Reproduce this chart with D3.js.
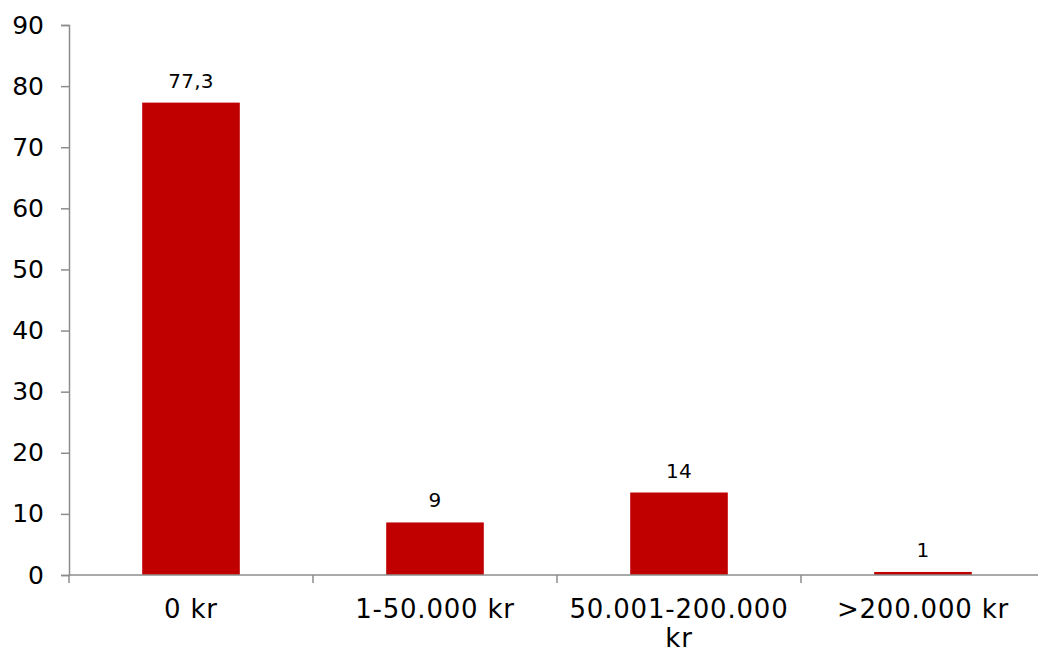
<!DOCTYPE html>
<html>
<head>
<meta charset="utf-8">
<script src="https://cdn.jsdelivr.net/npm/d3@7"></script>
<style>
  html, body { margin: 0; padding: 0; background: #fff; }
  svg { display: block; font-family: "DejaVu Sans", Verdana, sans-serif; }
</style>
</head>
<body>
<svg id="chart" width="1038" height="654"></svg>
<script>
const categories = ["0 kr", "1-50.000 kr", "50.001-200.000 kr", ">200.000 kr"];
const values = [77.3, 8.6, 13.5, 0.5];
const valueLabels = ["77,3", "9", "14", "1"];
const yTicks = [0, 10, 20, 30, 40, 50, 60, 70, 80, 90];

(function () {
const svg = d3.select("#chart");
const mLeft = 69, mRight = 1045, mTop = 25, mBottom = 575;
const axisColor = "#8c8c8c";

const x = d3.scaleBand().domain(categories).range([mLeft, mRight]).paddingInner(0.6).paddingOuter(0.3);
const y = d3.scaleLinear().domain([0, 90]).range([mBottom, mTop]);

// bars
svg.selectAll("rect.bar").data(values).join("rect")
  .attr("class", "bar")
  .attr("x", (d, i) => x(categories[i]))
  .attr("width", x.bandwidth())
  .attr("y", d => y(d))
  .attr("height", d => y(0) - y(d))
  .attr("fill", "#c00000");

// data labels
svg.selectAll("text.val").data(values).join("text")
  .attr("class", "val")
  .attr("x", (d, i) => x(categories[i]) + x.bandwidth() / 2)
  .attr("y", d => y(d) - 15)
  .attr("text-anchor", "middle")
  .attr("font-size", 20)
  .attr("letter-spacing", 0.3)
  .attr("fill", "#000")
  .text((d, i) => valueLabels[i]);

// y axis
const yAxis = d3.axisLeft(y).tickValues(yTicks).tickSize(8).tickPadding(17).tickFormat(d3.format("d"));
const gy = svg.append("g").attr("transform", `translate(${mLeft},0)`).call(yAxis);
gy.select(".domain").attr("stroke", axisColor).attr("stroke-width", 1.5);
gy.selectAll(".tick line").attr("stroke", axisColor).attr("stroke-width", 1.5);
gy.selectAll(".tick text").attr("font-size", 25).attr("fill", "#000").attr("font-family", "DejaVu Sans, Verdana, sans-serif");

// x axis line
svg.append("line")
  .attr("x1", mLeft).attr("x2", mRight)
  .attr("y1", y(0)).attr("y2", y(0))
  .attr("stroke", axisColor).attr("stroke-width", 1.5);

// category boundary ticks
const boundaries = d3.range(categories.length + 1).map(i => mLeft + i * (mRight - mLeft) / categories.length);
svg.selectAll("line.xtick").data(boundaries).join("line")
  .attr("class", "xtick")
  .attr("x1", d => d).attr("x2", d => d)
  .attr("y1", y(0)).attr("y2", y(0) + 8)
  .attr("stroke", axisColor).attr("stroke-width", 1.5);

// category labels with wrapping
const maxW = 236;
categories.forEach((c, i) => {
  const cx = x(c) + x.bandwidth() / 2;
  const t = svg.append("text")
    .attr("x", cx).attr("y", 618)
    .attr("text-anchor", "middle")
    .attr("font-size", 26)
    .attr("letter-spacing", 0.8)
    .attr("fill", "#000");
  const words = c.split(" ");
  let line = [];
  let tspan = t.append("tspan").attr("x", cx).attr("dy", 0);
  words.forEach(w => {
    line.push(w);
    tspan.text(line.join(" "));
    if (tspan.node().getComputedTextLength() > maxW && line.length > 1) {
      line.pop();
      tspan.text(line.join(" "));
      line = [w];
      tspan = t.append("tspan").attr("x", cx).attr("dy", 29).text(w);
    }
  });
});
})();
</script>
</body>
</html>
